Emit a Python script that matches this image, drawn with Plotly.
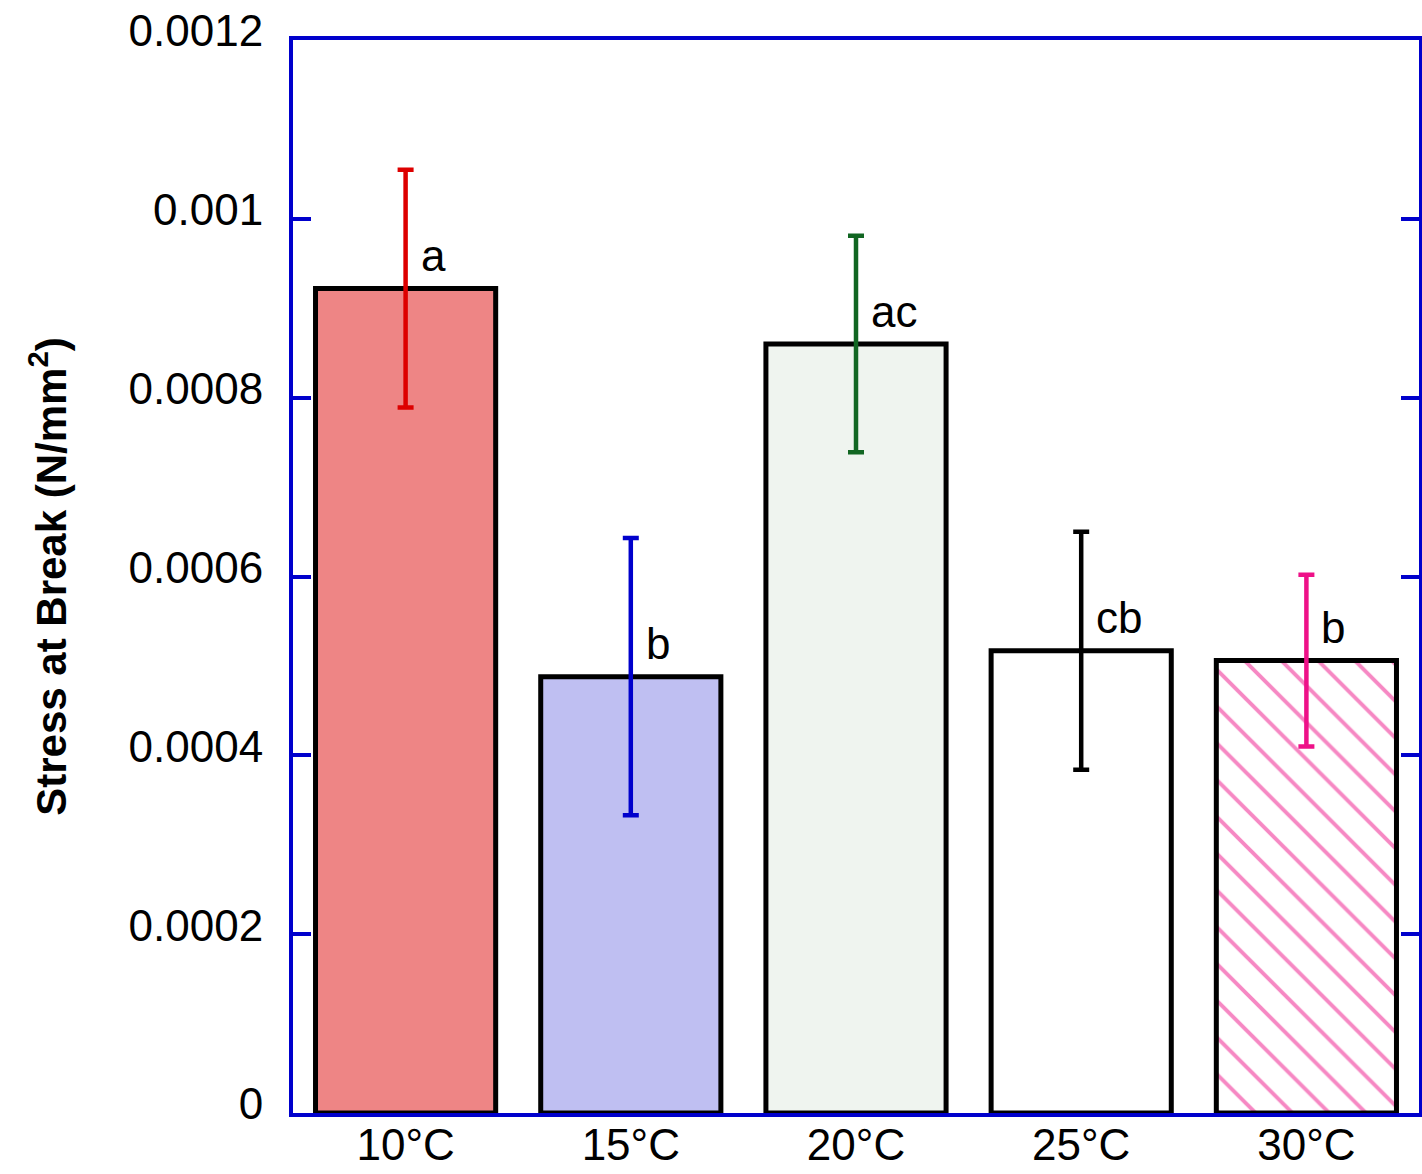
import plotly.graph_objects as go

categories = ["10°C", "15°C", "20°C", "25°C", "30°C"]
means = [0.000922, 0.000488, 0.000860, 0.000517, 0.000506]
errors = [0.000133, 0.000155, 0.000121, 0.000133, 0.000096]
letters = ["a", "b", "ac", "cb", "b"]
fill_colors = ["#EE8585", "#BFBFF2", "#EFF4EF", "#FFFFFF", "#FFFFFF"]
err_colors = ["#DD0000", "#0000CC", "#116622", "#000000", "#EE1188"]
tick_vals = [0, 0.0002, 0.0004, 0.0006, 0.0008, 0.001, 0.0012]
tick_text = ["0", "0.0002", "0.0004", "0.0006", "0.0008", "0.001", "0.0012"]

FONT = "Liberation Sans, Arial, sans-serif"
AXIS_BLUE = "#0000CC"

fig = go.Figure()
for i, cat in enumerate(categories):
    pattern = None
    if i == 4:
        pattern = dict(shape="\\", fgcolor="#EE1188", bgcolor="#FFFFFF",
                       size=26, solidity=0.15, fillmode="overlay")
    fig.add_trace(go.Bar(
        x=[cat], y=[means[i]],
        width=0.8,
        marker=dict(color=fill_colors[i], line=dict(color="black", width=5),
                    pattern=pattern),
        error_y=dict(type="data", array=[errors[i]], visible=True,
                     color=err_colors[i], thickness=4.5, width=8),
        showlegend=False,
    ))
    fig.add_annotation(x=cat, y=means[i], text=letters[i], showarrow=False,
                       xanchor="left", yanchor="middle", xshift=13, yshift=33,
                       font=dict(family=FONT, size=44, color="black"))

fig.update_layout(
    barmode="overlay",
    width=1422, height=1174,
    margin=dict(l=293, r=3, t=40, b=61, autoexpand=False),
    plot_bgcolor="white", paper_bgcolor="white",
    font=dict(family=FONT, color="black"),
)
fig.update_xaxes(
    showline=True, linecolor=AXIS_BLUE, linewidth=4, mirror=True,
    ticks="", showgrid=False, range=[-0.5, 4.5], automargin=False,
    tickfont=dict(family=FONT, size=44, color="black"),
    ticklabelstandoff=-10,
)
fig.update_yaxes(
    range=[0, 0.0012], tickvals=tick_vals, ticktext=tick_text,
    showline=True, linecolor=AXIS_BLUE, linewidth=4, mirror="ticks",
    ticks="inside", ticklen=18, tickwidth=4, tickcolor=AXIS_BLUE,
    showgrid=False, zeroline=False, automargin=False,
    tickfont=dict(family=FONT, size=44, color="black"),
    ticklabelstandoff=17, ticklabelshift=-9,
    title=dict(text="<b>Stress at Break (N/mm<sup>2</sup>)</b>",
               font=dict(family=FONT, size=42, color="black"), standoff=50),
)

fig.write_html("out.html")
